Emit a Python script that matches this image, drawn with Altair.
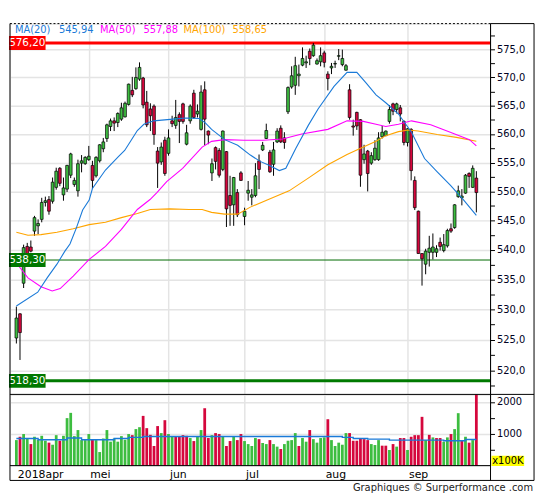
import altair as alt
import pandas as pd

# ---------------- data ----------------
opens = [525.3, 529.3, 534.4, 540.6, 540.5, 543.2, 544.1, 545.2, 548.1, 548.6,
         548.3, 550.7, 554.0, 549.4, 550.4, 552.8, 551.2, 550.1, 554.9, 554.8,
         555.5, 554.5, 552.7, 555.3, 557.4, 559.2, 561.3, 562.3, 562.0, 562.6,
         563.0, 565.2, 567.7, 568.0, 569.7, 569.9, 565.6, 564.4, 564.9, 557.0,
         555.1, 558.9, 556.6, 562.3, 561.5, 563.4, 565.3, 558.2, 562.3, 567.2,
         563.5, 560.8, 567.8, 560.5, 553.2, 557.6, 557.1, 553.8, 556.9, 549.3,
         547.7, 549.8, 553.2, 545.7, 549.7, 549.0, 549.3, 555.3, 557.2, 559.2,
         556.8, 554.7, 558.6, 561.0, 559.3, 563.9, 568.3, 568.6, 570.3, 572.2,
         572.6, 574.7, 573.9, 572.4, 572.8, 574.4, 570.6, 571.7, 572.4, 573.8,
         572.3, 571.3, 567.8, 561.4, 563.8, 562.5, 555.5, 557.0, 554.9, 555.5,
         555.5, 559.5, 559.7, 562.2, 565.3, 564.3, 564.6, 562.2, 558.5, 560.8,
         551.9, 546.6, 539.4, 537.6, 539.6, 539.6, 539.6, 541.3, 539.9, 540.7,
         543.6, 543.8, 549.1, 548.9, 549.7, 553.1, 550.7, 552.3]
closes = [528.6, 526.2, 540.4, 539.0, 539.8, 545.5, 544.5, 548.1, 548.4, 546.6,
          551.6, 553.5, 551.4, 550.6, 554.5, 556.5, 551.9, 554.8, 555.3, 555.9,
          556.1, 551.9, 555.9, 558.1, 558.6, 561.6, 562.3, 561.9, 563.6, 564.6,
          565.4, 568.8, 566.9, 570.0, 571.8, 565.1, 561.6, 563.2, 559.9, 554.9,
          557.7, 553.1, 559.3, 561.8, 562.9, 562.2, 562.2, 560.2, 564.9, 562.9,
          564.0, 567.4, 562.6, 559.8, 554.8, 555.2, 552.8, 560.5, 547.0, 547.6,
          552.4, 546.0, 551.9, 546.6, 550.2, 549.4, 552.7, 553.8, 558.0, 560.6,
          553.4, 557.2, 560.5, 558.6, 558.5, 568.2, 570.3, 572.1, 570.6, 573.4,
          572.8, 573.4, 575.8, 573.0, 573.9, 572.7, 569.8, 572.0, 572.5, 573.9,
          573.4, 572.1, 562.9, 561.2, 561.4, 552.8, 556.5, 553.1, 556.2, 557.5,
          559.3, 560.3, 560.5, 564.3, 564.0, 565.3, 563.5, 558.5, 560.9, 553.6,
          547.2, 539.4, 538.5, 539.8, 540.3, 540.5, 540.2, 540.6, 540.9, 543.3,
          543.2, 547.7, 550.1, 549.2, 552.8, 552.6, 554.0, 549.8]
highs = [530.5, 529.4, 540.9, 541.2, 541.6, 545.8, 545.2, 548.9, 549.1, 549.2,
         552.4, 554.1, 554.2, 552.4, 554.6, 556.7, 552.4, 555.5, 556.3, 556.1,
         557.9, 555.3, 556.1, 558.2, 559.3, 561.8, 562.7, 562.9, 563.8, 565.5,
         565.7, 568.9, 570.1, 571.8, 572.7, 570.1, 567.6, 565.4, 565.2, 557.7,
         558.5, 559.5, 560.8, 563.2, 566.0, 563.8, 565.5, 561.6, 565.2, 567.8,
         565.2, 568.6, 569.3, 560.6, 555.7, 557.8, 557.5, 560.6, 557.0, 552.7,
         552.5, 550.4, 553.5, 547.2, 551.8, 550.4, 554.9, 556.4, 558.6, 561.8,
         557.2, 558.6, 561.0, 561.5, 560.3, 568.4, 572.0, 573.7, 572.3, 575.4,
         573.9, 575.2, 576.2, 573.4, 575.4, 574.8, 571.1, 572.6, 573.0, 575.1,
         575.0, 572.4, 568.8, 562.5, 563.9, 562.6, 558.1, 557.2, 556.8, 558.9,
         560.3, 561.4, 560.6, 565.1, 565.5, 565.5, 565.1, 562.4, 561.0, 561.0,
         552.6, 546.7, 539.4, 540.2, 542.4, 542.8, 540.8, 542.1, 542.7, 543.6,
         544.5, 547.8, 551.0, 550.4, 553.0, 553.3, 554.5, 553.5]
lows = [524.4, 521.7, 533.6, 538.2, 539.6, 542.4, 542.7, 544.7, 547.4, 546.0,
        547.9, 550.3, 550.9, 548.4, 549.9, 552.3, 550.8, 549.1, 553.3, 554.6,
        555.3, 550.4, 552.4, 555.0, 556.8, 558.6, 560.5, 560.5, 561.2, 562.3,
        562.9, 565.0, 566.5, 567.8, 569.4, 564.5, 561.2, 560.5, 558.1, 550.6,
        554.6, 552.7, 556.2, 561.2, 560.9, 558.4, 561.8, 558.0, 561.8, 562.7,
        562.9, 560.6, 558.0, 558.2, 551.8, 553.8, 552.4, 553.5, 543.9, 544.1,
        544.1, 545.6, 551.8, 544.2, 548.4, 547.6, 549.0, 550.4, 557.0, 559.1,
        553.2, 552.7, 558.4, 558.4, 557.4, 563.5, 568.0, 566.9, 568.4, 572.0,
        571.7, 572.2, 573.7, 572.3, 572.0, 571.8, 567.7, 570.6, 571.7, 573.1,
        572.0, 571.2, 562.5, 559.7, 560.7, 550.8, 554.8, 550.0, 554.6, 555.3,
        555.3, 559.2, 559.6, 561.8, 563.3, 563.6, 562.2, 558.0, 557.8, 551.9,
        546.8, 539.4, 534.0, 535.9, 537.2, 538.4, 538.8, 539.9, 539.6, 540.4,
        542.9, 543.6, 548.9, 547.6, 549.6, 550.6, 550.6, 546.4]

# volume in units of 100K, and whether the bar is drawn green (1) or red (0)
volumes = [800, 905, 990, 850, 675, 905, 810, 935, 780, 720,
           655, 955, 780, 935, 1490, 1655, 925, 1115, 800, 800,
           990, 830, 800, 425, 850, 1115, 750, 850, 750, 925,
           810, 990, 955, 1145, 1205, 1560, 1175, 965, 615, 1240,
           1020, 1425, 990, 905, 905, 905, 955, 935, 865, 770,
           905, 1115, 1800, 865, 955, 1020, 990, 905, 615, 770,
           905, 800, 990, 770, 675, 615, 865, 830, 710, 675,
           800, 675, 595, 520, 675, 780, 800, 1020, 615, 865,
           750, 1115, 830, 720, 865, 885, 1455, 800, 615, 720,
           655, 1020, 1020, 780, 780, 850, 830, 800, 675, 645,
           800, 625, 625, 490, 675, 595, 865, 865, 490, 905,
           955, 955, 1530, 800, 965, 885, 865, 865, 750, 885,
           990, 1145, 1645, 780, 905, 720, 800, 2230]
vol_green = [1, 0, 1, 1, 0, 1, 1, 1, 1, 0,
             1, 1, 0, 1, 1, 1, 1, 1, 1, 1,
             1, 0, 1, 1, 1, 1, 1, 1, 1, 1,
             1, 1, 0, 1, 1, 0, 0, 0, 0, 0,
             1, 0, 1, 1, 0, 0, 0, 0, 1, 0,
             1, 1, 0, 0, 1, 0, 0, 1, 0, 0,
             1, 0, 0, 1, 1, 1, 1, 0, 1, 1,
             0, 1, 1, 0, 1, 1, 1, 1, 0, 1,
             1, 0, 1, 1, 1, 1, 0, 1, 1, 1,
             1, 1, 0, 0, 0, 0, 0, 0, 1, 1,
             1, 0, 0, 1, 0, 1, 0, 0, 1, 0,
             0, 0, 0, 1, 0, 1, 0, 0, 1, 1,
             0, 1, 1, 0, 1, 0, 1, 0]

ma20_day = [0, 5.9, 8.5, 11.2, 13.4, 14.8, 16.6, 18.3, 20.1, 21.0, 24.6, 28.1, 29.9,
            31.7, 33.4, 35.2, 37.9, 43.2, 46.8, 50.4, 52.1, 53.9, 57.5, 61.1, 64.6,
            67.3, 69.9, 72.6, 74.4, 77.1, 80.6, 83.3, 87.7, 91.3, 94.0, 96.6, 99.3,
            102.0, 105.5, 109.1, 112.7, 116.2, 119.8, 123.4, 127]
ma20_val = [530.6, 532.9, 535.3, 537.6, 539.8, 541.0, 543.8, 546.8, 548.5, 550.5, 553.7,
            556.0, 557.1, 558.9, 560.6, 561.7, 562.3, 562.6, 562.8, 562.7, 562.0, 560.8,
            559.0, 558.0, 556.3, 555.2, 554.5, 553.6, 554.0, 557.4, 561.5, 564.4, 568.4,
            570.9, 570.9, 569.0, 566.9, 565.5, 563.5, 560.3, 555.7, 553.4, 551.1, 548.6,
            545.9]
ma50_day = [0, 3.2, 6.8, 9.9, 12.1, 15.7, 20.1, 24.6, 29.0, 33.4, 36.9, 38.8, 41.5,
            45.9, 51.3, 53.9, 57.5, 62.8, 68.2, 73.5, 78.8, 86.0, 91.3, 95.8, 99.3,
            102.0, 105.5, 109.1, 114.4, 119.8, 125.1, 127]
ma50_val = [537.8, 535.3, 533.8, 533.1, 533.5, 535.6, 538.4, 540.6, 543.5, 546.9, 548.6,
            549.8, 551.7, 554.0, 557.7, 558.7, 559.0, 558.9, 558.9, 559.1, 560.0, 560.8,
            562.3, 562.2, 561.7, 561.3, 561.7, 562.3, 561.6, 560.3, 559.0, 557.9]
ma100_day = [0, 3.2, 6.8, 11.2, 15.7, 20.1, 24.6, 29.0, 33.4, 37.0, 42.4, 47.7, 51.3,
             53.9, 57.5, 61.1, 64.6, 69.9, 75.3, 80.6, 86.0, 91.3, 95.8, 99.3, 102.0,
             105.5, 108.2, 110.9, 116.2, 121.5, 127]
ma100_val = [543.0, 542.5, 542.6, 543.0, 543.6, 544.3, 544.7, 545.5, 546.2, 546.9, 547.0,
             546.9, 546.9, 546.4, 546.1, 546.1, 547.3, 548.7, 550.1, 552.3, 554.6, 556.4,
             557.7, 558.7, 559.7, 560.4, 560.7, 560.5, 559.9, 559.4, 558.7]
volma_day = [0, 6, 14, 18, 27, 31, 35, 86, 90, 93, 97, 103, 118, 124, 127]
volma_val = [850, 810, 865, 810, 850, 885, 915, 915, 885, 850, 830, 800, 780, 820, 820]

month_idx = [0, 20, 42, 63, 85, 108]
month_lbl = ["2018apr", "mei", "jun", "jul", "aug", "sep"]

resist_level, resist_text = 576.2, "576,20"
support1_level, support1_text = 538.3, "538,30"
support2_level, support2_text = 518.3, "518,30"

legend_items = ["MA(20)", "545,94", "MA(50)", "557,88", "MA(100)", "558,65"]

# ---------------- styling ----------------
FONT = "DejaVu Sans"
GREEN = "#3dbd40"
RED = "#d5073d"
BLUE = "#1a7ad8"
MAGENTA = "#ff00ff"
ORANGE = "#ffa500"
GRID = "#e4e4e4"
W, H, VH = 486, 375, 72

days = list(range(len(opens)))
cdf = pd.DataFrame({"day": days, "open": opens, "close": closes, "high": highs, "low": lows})
cdf["lo"] = cdf[["open", "close"]].min(axis=1)
cdf["hi"] = cdf[["open", "close"]].max(axis=1)
cdf["dir"] = ["up" if c >= o else "down" for o, c in zip(opens, closes)]

vdf = pd.DataFrame({"day": days, "vol": volumes,
                    "dir": ["up" if g else "down" for g in vol_green]})

xs = alt.Scale(domain=[-0.4, 129.55], nice=False, zero=False)
ys = alt.Scale(type="log", domain=[516.1, 579.7], nice=False, zero=False)
vs = alt.Scale(domain=[0, 2234], nice=False, zero=True)
dir_color = alt.Color("dir:N", scale=alt.Scale(domain=["up", "down"], range=[GREEN, RED]), legend=None)

x_grid_axis = alt.Axis(values=month_idx, labels=False, ticks=False, domain=False, grid=True,
                       gridColor=GRID, gridWidth=1.5, title=None,
                       gridOpacity={"condition": {"test": "datum.value == 0", "value": 0}, "value": 1})

label_expr = " : ".join(f"datum.value == {i} ? '{l}'" for i, l in zip(month_idx, month_lbl)) + " : ''"
x_month_axis = alt.Axis(values=month_idx, labelExpr=label_expr, labelAlign="left", labelOffset=1,
                        labelBaseline="top", labelPadding=3, ticks=False, domain=False,
                        grid=True, gridColor=GRID, gridWidth=1.5, title=None,
                        labelFont=FONT, labelFontSize=11, labelColor="black",
                        labelOverlap=False, labelFlush=False,
                        gridOpacity={"condition": {"test": "datum.value == 0", "value": 0}, "value": 1})

price_ticks = [517.5 + 2.5 * k for k in range(25)]
y_axis = alt.Axis(orient="right", values=price_ticks, title=None, domain=False,
                  labelExpr="datum.value % 5 == 0 ? replace(format(datum.value, '.1f'), '.', ',') : ''",
                  tickSize=4, tickColor="black", labelPadding=2, labelFont=FONT, labelFontSize=10,
                  labelColor="#000022", grid=True, gridColor=GRID, gridWidth=1.5,
                  gridOpacity={"condition": {"test": "datum.value % 5 != 0", "value": 0}, "value": 1})

v_axis = alt.Axis(orient="right", values=[500, 1000, 1500, 2000], title=None, domain=False,
                  labelExpr="datum.value % 1000 == 0 ? format(datum.value, 'd') : ''",
                  tickSize=4, tickColor="black", labelPadding=2, labelFont=FONT, labelFontSize=10,
                  labelColor="#000022", grid=True, gridColor=GRID, gridWidth=1.5,
                  gridOpacity={"condition": {"test": "datum.value % 1000 != 0", "value": 0}, "value": 1})

one = pd.DataFrame({"k": [0]})

# ---------------- price panel ----------------
def level_rule(level, color, width):
    return alt.Chart(pd.DataFrame({"v": [level]})).mark_rule(color=color, strokeWidth=width).encode(
        y=alt.Y("v:Q", scale=ys, axis=y_axis))

def level_label(level, text, color):
    d = pd.DataFrame({"v": [level], "t": [text]})
    box = alt.Chart(d).mark_point(shape="M-1,-0.38H1V0.38H-1Z", size=37 * 37, filled=True,
                                  opacity=1, color=color, strokeWidth=0).encode(
        x=alt.value(17.5), y=alt.Y("v:Q", scale=ys, axis=y_axis))
    txt = alt.Chart(d).mark_text(color="white", font=FONT, fontSize=10.5, align="center",
                                 baseline="middle").encode(
        x=alt.value(17.5), y=alt.Y("v:Q", scale=ys, axis=y_axis), text="t:N")
    return box + txt

def ma_line(dd, vv, color):
    d = pd.DataFrame({"day": dd, "val": vv})
    return alt.Chart(d).mark_line(color=color, strokeWidth=1.1).encode(
        x=alt.X("day:Q", scale=xs, axis=x_grid_axis), y=alt.Y("val:Q", scale=ys, axis=y_axis))

wick = alt.Chart(cdf).mark_rule(color="black", strokeWidth=1).encode(
    x=alt.X("day:Q", scale=xs, axis=x_grid_axis), y=alt.Y("low:Q", scale=ys, axis=y_axis), y2="high:Q")
body = alt.Chart(cdf).mark_bar(size=2.8, stroke="black", strokeWidth=0.7).encode(
    x=alt.X("day:Q", scale=xs, axis=x_grid_axis), y=alt.Y("lo:Q", scale=ys, axis=y_axis), y2="hi:Q",
    color=dir_color)

legend_colors = [BLUE, BLUE, MAGENTA, MAGENTA, ORANGE, ORANGE]
legend_x = [5, 49.5, 91, 135, 175.5, 225]
legend_layers = [
    alt.Chart(one).mark_text(text=t, color=c, font=FONT, fontSize=10, align="left",
                             baseline="middle").encode(x=alt.value(xp), y=alt.value(7))
    for t, c, xp in zip(legend_items, legend_colors, legend_x)
]

price = alt.layer(
    level_rule(support1_level, "#006a00", 1),
    level_rule(support2_level, "#007a00", 3),
    level_rule(resist_level, "#ff0000", 3),
    wick, body,
    ma_line(ma100_day, ma100_val, ORANGE),
    ma_line(ma50_day, ma50_val, MAGENTA),
    ma_line(ma20_day, ma20_val, BLUE),
    level_label(resist_level, resist_text, "#ff0000"),
    level_label(support1_level, support1_text, "#007800"),
    level_label(support2_level, support2_text, "#007800"),
    *legend_layers,
).properties(width=W, height=H)

# ---------------- volume panel ----------------
vbars = alt.Chart(vdf).mark_bar(size=2.8).encode(
    x=alt.X("day:Q", scale=xs, axis=x_month_axis),
    y=alt.Y("vol:Q", scale=vs, axis=v_axis), color=dir_color)
vma = alt.Chart(pd.DataFrame({"day": volma_day, "vol": volma_val})).mark_line(
    color=BLUE, strokeWidth=1.4, interpolate="step-after").encode(
    x=alt.X("day:Q", scale=xs, axis=x_month_axis), y=alt.Y("vol:Q", scale=vs, axis=v_axis))

unit_box = alt.Chart(one).mark_rect(color="#ffff00").encode(
    x=alt.value(487), x2=alt.value(520), y=alt.value(62), y2=alt.value(72.5))
unit_txt = alt.Chart(one).mark_text(text="x100K", font=FONT, fontSize=10, color="black",
                                     align="center", baseline="middle").encode(
    x=alt.value(503.5), y=alt.value(67.5))
footer = alt.Chart(one).mark_text(text="Graphiques © Surperformance .com", font=FONT, fontSize=10,
                                   color="#222222", align="right", baseline="middle").encode(
    x=alt.value(529), y=alt.value(95))

def hline(x1, x2, y, dash=None):
    kw = {"color": "black", "strokeWidth": 1}
    if dash:
        kw["strokeDash"] = dash
    return alt.Chart(one).mark_rule(**kw).encode(x=alt.value(x1), x2=alt.value(x2), y=alt.value(y))

def vline(x, y1, y2):
    return alt.Chart(one).mark_rule(color="black", strokeWidth=1).encode(
        x=alt.value(x), y=alt.value(y1), y2=alt.value(y2))

frame = [
    hline(0, W, -H, dash=[2, 2]),
    hline(W, 530, -H),
    hline(0, 530, 0),
    hline(0, W, VH),
    hline(0, 530, 87),
    vline(0, -H, 87),
    vline(W, -H, 87),
    vline(530, -H, 87),
]

volume = alt.layer(vbars, vma, unit_box, unit_txt, footer, *frame).properties(width=W, height=VH)

chart = alt.vconcat(price, volume, spacing=0, bounds="flush").properties(
    padding={"left": 0, "top": 12, "right": 2, "bottom": 2}
).configure_view(stroke=None).configure(background="white")

chart.save("out.html", embed_options={"renderer": "svg", "actions": False})
